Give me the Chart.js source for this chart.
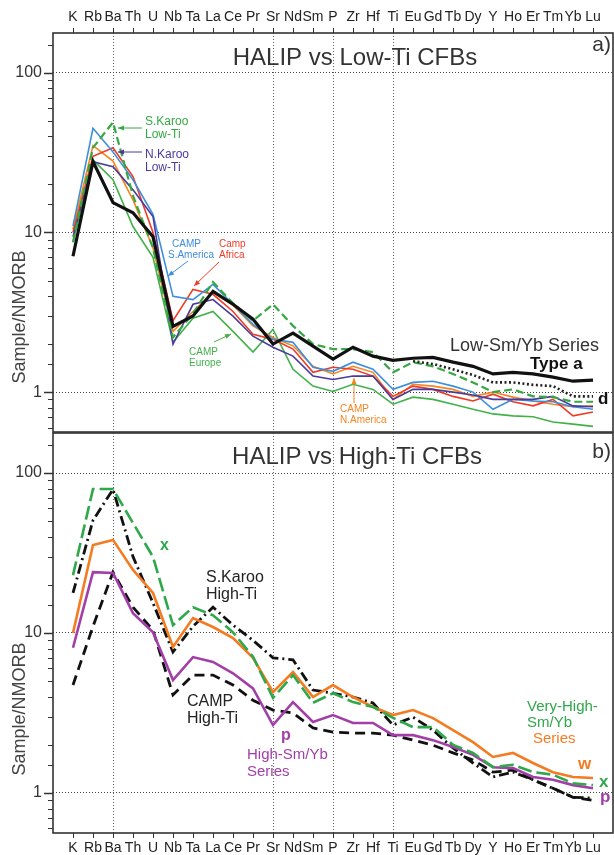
<!DOCTYPE html>
<html><head><meta charset="utf-8">
<script src="https://cdn.jsdelivr.net/npm/chart.js@4.4.1/dist/chart.umd.min.js"></script>
<style>
html,body{margin:0;padding:0;background:#fff;width:614px;height:855px;overflow:hidden}
#top{position:absolute;left:0;top:0}
#bot{position:absolute;left:0;top:432px}
</style></head><body>
<canvas id="top" width="614" height="433"></canvas>
<canvas id="bot" width="614" height="423"></canvas>
<script>
// ---------- categories / ticks ----------
const elements = ['K','Rb','Ba','Th','U','Nb','Ta','La','Ce','Pr','Sr','Nd','Sm','P','Zr','Hf','Ti','Eu','Gd','Tb','Dy','Y','Ho','Er','Tm','Yb','Lu'];
const gridElements = ['Ba','Sr','P','Ti'];
const yTickLabels = [1, 10, 100];
const yRange = [0.5623, 177.83];
const yTitle = 'Sample/NMORB';

// ---------- panel a: HALIP vs Low-Ti CFBs ----------
const halipTypeA   = [7.1, 27.8, 15.4, 13.3, 9.4, 2.58, 3.0, 4.28, 3.55, 2.86, 2.0, 2.34, 1.94, 1.61, 1.91, 1.68, 1.58, 1.63, 1.65, 1.54, 1.45, 1.30, 1.33, 1.30, 1.24, 1.17, 1.19];
const halipTypeD   = [null, null, null, null, null, null, null, null, null, null, null, null, null, null, null, null, null, 1.56, 1.50, 1.39, 1.28, 1.15, 1.15, 1.11, 1.09, 0.94, 0.94];
const sKarooLowTi  = [8.7, 34, 49, 17, 8, 2.2, 3.1, 4.9, 3.6, 2.8, 3.55, 2.6, 2.0, 1.86, 1.86, 1.78, 1.33, 1.54, 1.45, 1.30, 1.15, 1.0, 1.04, 0.94, 0.93, 0.87, 0.87];
const nKarooLowTi  = [9.4, 27.8, 25.8, 18.5, 12.6, 2.0, 3.55, 3.8, 2.99, 2.24, 1.91, 1.68, 1.26, 1.2, 1.26, 1.26, 0.9, 1.04, 1.04, 1.0, 0.96, 0.9, 0.9, 0.9, 0.94, 0.82, 0.81];
const campSAmerica = [11, 45, 32, 21.4, 13, 3.98, 3.8, 4.73, 3.55, 2.66, 2.14, 2.05, 1.43, 1.35, 1.54, 1.39, 1.04, 1.15, 1.17, 1.09, 1.0, 0.78, 0.9, 0.88, 0.87, 0.81, 0.78];
const campAfrica   = [10, 30, 34, 22.4, 10, 2.8, 4.4, 4.1, 3.2, 2.3, 2.14, 1.86, 1.33, 1.43, 1.39, 1.26, 0.94, 1.09, 1.04, 0.94, 0.88, 0.97, 0.87, 0.82, 0.90, 0.71, 0.75];
const campEurope   = [8.7, 28.5, 21.4, 10.9, 7.0, 2.05, 2.9, 3.2, 2.4, 1.78, 2.47, 1.39, 1.09, 1.01, 1.12, 1.04, 0.84, 0.93, 0.9, 0.84, 0.78, 0.73, 0.71, 0.70, 0.65, 0.63, 0.61];
const campNAmerica = [10.5, 35, 28, 16, 8, 2.4, 3.2, 4.2, 3.5, 2.6, 2.2, 1.95, 1.45, 1.3, 1.45, 1.33, 0.90, 1.12, 1.09, 1.04, 0.94, 1.0, 0.93, 0.88, 0.84, 0.81, 0.82];

// ---------- panel b: HALIP vs High-Ti CFBs ----------
const halipX       = [23, 79.4, 79.4, 48.7, 29.9, 11.2, 14.5, 12.9, 10.1, 7.1, 3.93, 5.46, 3.66, 4.2, 3.7, 3.45, 2.95, 2.58, 2.58, 2.0, 1.78, 1.45, 1.5, 1.35, 1.30, 1.15, 1.12];
const halipW       = [10, 35.5, 38.2, 24.8, 17.8, 8.17, 12.4, 10.9, 9.3, 7.0, 4.27, 5.7, 3.98, 4.73, 3.98, 3.45, 3.07, 3.3, 2.94, 2.47, 2.08, 1.68, 1.78, 1.54, 1.35, 1.26, 1.24];
const halipP       = [8.09, 24, 23.7, 13.3, 10.1, 5.08, 7.07, 6.6, 5.6, 4.5, 2.66, 3.7, 2.78, 3.07, 2.74, 2.74, 2.3, 2.3, 2.14, 1.94, 1.73, 1.45, 1.43, 1.26, 1.21, 1.12, 1.07];
const sKarooHighTi = [17.8, 50.6, 79, 30, 15.4, 7.6, 11, 14.5, 11.2, 9.0, 7.0, 6.8, 4.4, 4.2, 3.98, 3.65, 2.66, 2.98, 2.47, 1.91, 1.54, 1.26, 1.35, 1.21, 1.07, 0.94, 0.93];
const campHighTi   = [4.73, 11, 24, 14.5, 10.4, 4.1, 5.46, 5.46, 4.73, 3.8, 3.3, 3.16, 2.55, 2.4, 2.37, 2.37, 2.3, 2.14, 1.99, 1.78, 1.61, 1.35, 1.39, 1.21, 1.07, 0.94, 0.9];

// ---------- helpers ----------
const NARROW = "'Liberation Sans Narrow','Liberation Sans',Arial,sans-serif";
const SANS = "'Liberation Sans',Arial,sans-serif";
const gridIdx = gridElements.map(e => elements.indexOf(e));
const pts = arr => arr.map((v, i) => ({x: i, y: v}));
const isDecade = v => { const l = Math.log10(v); return Math.abs(l - Math.round(l)) < 1e-6; };
const findLabel = v => yTickLabels.find(l => Math.abs(l - v) < 1e-6 * l);

function ds(label, values, color, width, dash) {
  return {label, data: pts(values), borderColor: color, borderWidth: width, borderDash: dash || [], spanGaps: false,
          pointRadius: 0, tension: 0, fill: false};
}

const panelPlugin = {
  id: 'panel',
  afterDraw(chart, args, opts) {
    const ctx = chart.ctx, a = chart.chartArea, ys = chart.scales.y;
    const dy = opts.dy || 0;
    ctx.save();
    ctx.strokeStyle = '#333';
    ys.ticks.forEach(t => {
      const v = t.value;
      if (v <= ys.min * 1.0001 || v >= ys.max * 0.9999) return;
      const major = isDecade(v);
      const y = Math.round(ys.getPixelForValue(v)) + 0.5;
      ctx.lineWidth = major ? 1.5 : 1;
      ctx.beginPath(); ctx.moveTo(a.left - (major ? 9 : 5), y); ctx.lineTo(a.left, y); ctx.stroke();
    });
    ctx.lineWidth = 1.6; ctx.strokeStyle = '#333';
    ctx.strokeRect(a.left, a.top, a.right - a.left, a.bottom - a.top);
    // rotated y-axis title
    ctx.save();
    ctx.translate(opts.yTitleX, opts.yTitleY - dy);
    ctx.rotate(-Math.PI / 2);
    ctx.fillStyle = '#444'; ctx.font = '18px ' + SANS;
    ctx.textAlign = 'center'; ctx.textBaseline = 'middle';
    ctx.fillText(yTitle, 0, 0);
    ctx.restore();
    (opts.arrows || []).forEach(r => {
      ctx.strokeStyle = r.c; ctx.fillStyle = r.c; ctx.lineWidth = 1;
      const x1 = r.x1, y1 = r.y1 - dy, x2 = r.x2, y2 = r.y2 - dy;
      ctx.beginPath(); ctx.moveTo(x1, y1); ctx.lineTo(x2, y2); ctx.stroke();
      const ang = Math.atan2(y2 - y1, x2 - x1), L = 6, W = 2.5;
      ctx.beginPath();
      ctx.moveTo(x2, y2);
      ctx.lineTo(x2 - L * Math.cos(ang) + W * Math.sin(ang), y2 - L * Math.sin(ang) - W * Math.cos(ang));
      ctx.lineTo(x2 - L * Math.cos(ang) - W * Math.sin(ang), y2 - L * Math.sin(ang) + W * Math.cos(ang));
      ctx.closePath(); ctx.fill();
    });
    (opts.texts || []).forEach(t => {
      ctx.fillStyle = t.c || '#333';
      ctx.font = t.f;
      ctx.textAlign = t.al || 'left';
      ctx.textBaseline = 'middle';
      ctx.fillText(t.t, t.x, t.y - dy);
    });
    ctx.restore();
  }
};

function makeChart(id, datasets, pos, plug) {
  return new Chart(document.getElementById(id), {
    type: 'line',
    data: {datasets},
    options: {
      responsive: false, animation: false, devicePixelRatio: 1,
      layout: {padding: pos === 'top' ? {left: 0, right: 1, top: 0, bottom: 1} : {left: 0, right: 1, top: 1, bottom: 0}},
      plugins: {legend: {display: false}, tooltip: {enabled: false}, panel: plug},
      scales: {
        x: {
          type: 'linear', position: pos, min: -1, max: 27,
          afterFit: s => { s.height = pos === 'top' ? 33 : 22; s.paddingLeft = 0; s.paddingRight = 0; },
          ticks: {stepSize: 1, autoSkip: false, maxRotation: 0, minRotation: 0, padding: 2, color: '#222',
                  font: {family: NARROW, size: 14},
                  callback: v => (v >= 0 && v < elements.length) ? elements[v] : ''},
          grid: {color: c => (c.tick && gridIdx.includes(c.tick.value)) ? '#666' : 'rgba(0,0,0,0)',
                 lineWidth: 1, tickLength: 5, tickWidth: 1,
                 tickColor: c => (c.tick && c.tick.value >= 0 && c.tick.value < elements.length) ? '#333' : 'rgba(0,0,0,0)'},
          border: {display: false, dash: [1, 2]}
        },
        y: {
          type: 'logarithmic', min: yRange[0], max: yRange[1],
          afterFit: s => { s.width = 53; s.paddingTop = 0; s.paddingBottom = 0; },
          title: {display: false},
          ticks: {autoSkip: false, padding: 11, color: '#333', font: {family: SANS, size: 16},
                  callback: v => findLabel(v) !== undefined ? String(findLabel(v)) : ''},
          grid: {drawTicks: false, lineWidth: 1,
                 color: c => (c.tick && findLabel(c.tick.value) !== undefined) ? '#444' : 'rgba(0,0,0,0)'},
          border: {display: false, dash: [1, 2]}
        }
      }
    },
    plugins: [panelPlugin]
  });
}

// ---------- panel a ----------
makeChart('top', [
  ds('HALIP Low-Sm/Yb Type a', halipTypeA, '#111', 3.2),
  ds('HALIP d', halipTypeD, '#222', 2.6, [2, 2.5]),
  ds('S.Karoo Low-Ti', sKarooLowTi, '#35a843', 2.2, [8, 4]),
  ds('N.Karoo Low-Ti', nKarooLowTi, '#4a3a9c', 1.6),
  ds('CAMP S.America', campSAmerica, '#3d8fdc', 1.6),
  ds('Camp Africa', campAfrica, '#ee3b26', 1.6),
  ds('CAMP N.America', campNAmerica, '#f5851f', 1.6),
  ds('CAMP Europe', campEurope, '#43b14a', 1.6)
], 'top', {
  dy: 0, yTitleX: 20, yTitleY: 317,
  texts: [
    {t: 'HALIP vs Low-Ti CFBs', x: 355, y: 58, f: '24px ' + SANS, c: '#333', al: 'center'},
    {t: 'a)', x: 611, y: 45, f: '21px ' + SANS, c: '#333', al: 'right'},
    {t: 'S.Karoo', x: 145, y: 122, f: '12px ' + SANS, c: '#35a843'},
    {t: 'Low-Ti', x: 145, y: 135, f: '12px ' + SANS, c: '#35a843'},
    {t: 'N.Karoo', x: 145, y: 155, f: '12px ' + SANS, c: '#4a3a9c'},
    {t: 'Low-Ti', x: 145, y: 168, f: '12px ' + SANS, c: '#4a3a9c'},
    {t: 'CAMP', x: 172, y: 244, f: '10px ' + SANS, c: '#3d8fdc'},
    {t: 'S.America', x: 168, y: 255, f: '10px ' + SANS, c: '#3d8fdc'},
    {t: 'Camp', x: 219, y: 244, f: '10px ' + SANS, c: '#ee3b26'},
    {t: 'Africa', x: 219, y: 255, f: '10px ' + SANS, c: '#ee3b26'},
    {t: 'CAMP', x: 189, y: 352, f: '10px ' + SANS, c: '#43b14a'},
    {t: 'Europe', x: 189, y: 363, f: '10px ' + SANS, c: '#43b14a'},
    {t: 'CAMP', x: 340, y: 409, f: '10px ' + SANS, c: '#f5851f'},
    {t: 'N.America', x: 340, y: 420, f: '10px ' + SANS, c: '#f5851f'},
    {t: 'Low-Sm/Yb Series', x: 450, y: 346, f: '18px ' + SANS, c: '#333'},
    {t: 'Type a', x: 530, y: 364, f: 'bold 17px ' + SANS, c: '#111'},
    {t: 'd', x: 598, y: 399, f: 'bold 17px ' + SANS, c: '#111'}
  ],
  arrows: [
    {x1: 142, y1: 128, x2: 118, y2: 128, c: '#35a843'},
    {x1: 142, y1: 152, x2: 118, y2: 152, c: '#4a3a9c'},
    {x1: 188, y1: 261, x2: 168, y2: 276, c: '#3d8fdc'},
    {x1: 219, y1: 262, x2: 194, y2: 286, c: '#ee3b26'},
    {x1: 214, y1: 342, x2: 231, y2: 334, c: '#43b14a'},
    {x1: 354, y1: 403, x2: 354, y2: 378, c: '#f5851f'}
  ]
});

// ---------- panel b ----------
makeChart('bot', [
  ds('HALIP x (Very-High-Sm/Yb)', halipX, '#2ea84a', 2.6, [14, 5]),
  ds('HALIP w (Very-High-Sm/Yb)', halipW, '#f47b20', 2.6),
  ds('HALIP p (High-Sm/Yb)', halipP, '#a33ea8', 2.6),
  ds('S.Karoo High-Ti', sKarooHighTi, '#111', 2.8, [10, 4, 2, 4]),
  ds('CAMP High-Ti', campHighTi, '#111', 2.8, [10, 6])
], 'bottom', {
  dy: 432, yTitleX: 20, yTitleY: 709,
  texts: [
    {t: 'HALIP vs High-Ti CFBs', x: 357, y: 457, f: '24px ' + SANS, c: '#333', al: 'center'},
    {t: 'b)', x: 611, y: 452, f: '21px ' + SANS, c: '#333', al: 'right'},
    {t: 'x', x: 160, y: 546, f: 'bold 16px ' + SANS, c: '#2ea84a'},
    {t: 'S.Karoo', x: 206, y: 578, f: '16px ' + SANS, c: '#222'},
    {t: 'High-Ti', x: 206, y: 595, f: '16px ' + SANS, c: '#222'},
    {t: 'CAMP', x: 187, y: 702, f: '16px ' + SANS, c: '#222'},
    {t: 'High-Ti', x: 187, y: 719, f: '16px ' + SANS, c: '#222'},
    {t: 'p', x: 281, y: 736, f: 'bold 16px ' + SANS, c: '#a33ea8'},
    {t: 'High-Sm/Yb', x: 247, y: 755, f: '15px ' + SANS, c: '#a33ea8'},
    {t: 'Series', x: 247, y: 772, f: '15px ' + SANS, c: '#a33ea8'},
    {t: 'Very-High-', x: 527, y: 707, f: '15px ' + SANS, c: '#2ea84a'},
    {t: 'Sm/Yb', x: 527, y: 723, f: '15px ' + SANS, c: '#2ea84a'},
    {t: 'Series', x: 533, y: 739, f: '15px ' + SANS, c: '#f47b20'},
    {t: 'w', x: 578, y: 764, f: 'bold 17px ' + SANS, c: '#f47b20'},
    {t: 'x', x: 599, y: 782, f: 'bold 17px ' + SANS, c: '#2ea84a'},
    {t: 'p', x: 600, y: 797, f: 'bold 17px ' + SANS, c: '#a33ea8'}
  ],
  arrows: []
});
</script>
</body></html>
